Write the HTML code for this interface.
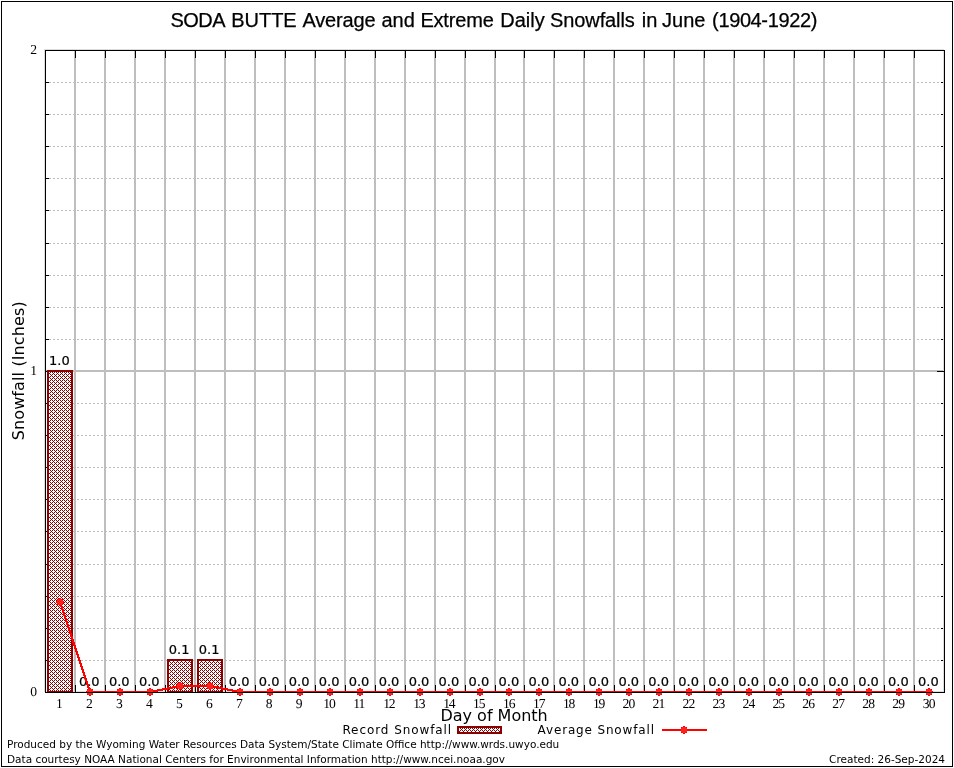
<!DOCTYPE html>
<html lang="en"><head><meta charset="utf-8">
<title>SODA BUTTE Average and Extreme Daily Snowfalls in June (1904-1922)</title>
<style>
html,body{margin:0;padding:0;background:#fff;}
body{width:954px;height:768px;overflow:hidden;}
svg{display:block;will-change:transform;}
.t{font-family:"Liberation Sans",Arial,Helvetica,sans-serif;font-size:20px;fill:#000;stroke:#000;stroke-width:.25px;}
.s{font-family:"Liberation Serif","Times New Roman",Times,serif;font-size:13.6px;fill:#000;text-rendering:geometricPrecision;}
.d{font-family:"DejaVu Sans",Verdana,sans-serif;fill:#000;}
</style></head><body>
<svg width="954" height="768" viewBox="0 0 954 768">
<defs>
<pattern id="xh" x="1" y="1" width="4" height="4" patternUnits="userSpaceOnUse">
<rect width="4" height="4" fill="#fff"/>
<path d="M0 0h1v1h-1zM1 1h1v1h-1zM3 1h1v1h-1zM2 2h1v1h-1zM1 3h1v1h-1zM3 3h1v1h-1z" fill="#8b0000" shape-rendering="crispEdges"/>
</pattern>
<g id="mk" shape-rendering="crispEdges"><path d="M-1 -4h2v1h2v2h1v2h-1v2h-2v1h-2v-1h-2v-2h-1v-2h1v-2h2z" fill="#ff0000"/><path d="M-2 -3h4v1h1v4h-1v1h-4v-1h-1v-4h1z" fill="#ff2020"/></g>
</defs>
<rect width="954" height="768" fill="#fff"/>
<rect x="1.5" y="1.5" width="951" height="765" fill="none" stroke="#000" stroke-width="1" shape-rendering="crispEdges"/>
<g stroke="#bebebe" shape-rendering="crispEdges">
<line x1="45" x2="944" y1="660.5" y2="660.5" stroke-width="1" stroke-dasharray="2 2"/>
<line x1="45" x2="944" y1="628.5" y2="628.5" stroke-width="1" stroke-dasharray="2 2"/>
<line x1="45" x2="944" y1="596.5" y2="596.5" stroke-width="1" stroke-dasharray="2 2"/>
<line x1="45" x2="944" y1="564.5" y2="564.5" stroke-width="1" stroke-dasharray="2 2"/>
<line x1="45" x2="944" y1="531.5" y2="531.5" stroke-width="1" stroke-dasharray="2 2"/>
<line x1="45" x2="944" y1="499.5" y2="499.5" stroke-width="1" stroke-dasharray="2 2"/>
<line x1="45" x2="944" y1="467.5" y2="467.5" stroke-width="1" stroke-dasharray="2 2"/>
<line x1="45" x2="944" y1="435.5" y2="435.5" stroke-width="1" stroke-dasharray="2 2"/>
<line x1="45" x2="944" y1="403.5" y2="403.5" stroke-width="1" stroke-dasharray="2 2"/>
<line x1="45" x2="944" y1="371" y2="371" stroke-width="2"/>
<line x1="45" x2="944" y1="339.5" y2="339.5" stroke-width="1" stroke-dasharray="2 2"/>
<line x1="45" x2="944" y1="307.5" y2="307.5" stroke-width="1" stroke-dasharray="2 2"/>
<line x1="45" x2="944" y1="275.5" y2="275.5" stroke-width="1" stroke-dasharray="2 2"/>
<line x1="45" x2="944" y1="243.5" y2="243.5" stroke-width="1" stroke-dasharray="2 2"/>
<line x1="45" x2="944" y1="210.5" y2="210.5" stroke-width="1" stroke-dasharray="2 2"/>
<line x1="45" x2="944" y1="178.5" y2="178.5" stroke-width="1" stroke-dasharray="2 2"/>
<line x1="45" x2="944" y1="146.5" y2="146.5" stroke-width="1" stroke-dasharray="2 2"/>
<line x1="45" x2="944" y1="114.5" y2="114.5" stroke-width="1" stroke-dasharray="2 2"/>
<line x1="45" x2="944" y1="82.5" y2="82.5" stroke-width="1" stroke-dasharray="2 2"/>
<line x1="75" x2="75" y1="50" y2="692" stroke-width="2"/>
<line x1="105" x2="105" y1="50" y2="692" stroke-width="2"/>
<line x1="135" x2="135" y1="50" y2="692" stroke-width="2"/>
<line x1="165" x2="165" y1="50" y2="692" stroke-width="2"/>
<line x1="195" x2="195" y1="50" y2="692" stroke-width="2"/>
<line x1="225" x2="225" y1="50" y2="692" stroke-width="2"/>
<line x1="255" x2="255" y1="50" y2="692" stroke-width="2"/>
<line x1="285" x2="285" y1="50" y2="692" stroke-width="2"/>
<line x1="315" x2="315" y1="50" y2="692" stroke-width="2"/>
<line x1="345" x2="345" y1="50" y2="692" stroke-width="2"/>
<line x1="375" x2="375" y1="50" y2="692" stroke-width="2"/>
<line x1="405" x2="405" y1="50" y2="692" stroke-width="2"/>
<line x1="435" x2="435" y1="50" y2="692" stroke-width="2"/>
<line x1="465" x2="465" y1="50" y2="692" stroke-width="2"/>
<line x1="495" x2="495" y1="50" y2="692" stroke-width="2"/>
<line x1="524" x2="524" y1="50" y2="692" stroke-width="2"/>
<line x1="554" x2="554" y1="50" y2="692" stroke-width="2"/>
<line x1="584" x2="584" y1="50" y2="692" stroke-width="2"/>
<line x1="614" x2="614" y1="50" y2="692" stroke-width="2"/>
<line x1="644" x2="644" y1="50" y2="692" stroke-width="2"/>
<line x1="674" x2="674" y1="50" y2="692" stroke-width="2"/>
<line x1="704" x2="704" y1="50" y2="692" stroke-width="2"/>
<line x1="734" x2="734" y1="50" y2="692" stroke-width="2"/>
<line x1="764" x2="764" y1="50" y2="692" stroke-width="2"/>
<line x1="794" x2="794" y1="50" y2="692" stroke-width="2"/>
<line x1="824" x2="824" y1="50" y2="692" stroke-width="2"/>
<line x1="854" x2="854" y1="50" y2="692" stroke-width="2"/>
<line x1="884" x2="884" y1="50" y2="692" stroke-width="2"/>
<line x1="914" x2="914" y1="50" y2="692" stroke-width="2"/>
</g>
<rect x="44.5" y="49.5" width="899" height="642" fill="none" stroke="#dcdcdc" stroke-width="1" shape-rendering="crispEdges"/>
<g stroke="#000" stroke-width="1" shape-rendering="crispEdges">
<line x1="75.5" x2="75.5" y1="50" y2="58"/>
<line x1="75.5" x2="75.5" y1="685" y2="693"/>
<line x1="105.5" x2="105.5" y1="50" y2="58"/>
<line x1="105.5" x2="105.5" y1="685" y2="693"/>
<line x1="135.5" x2="135.5" y1="50" y2="58"/>
<line x1="135.5" x2="135.5" y1="685" y2="693"/>
<line x1="165.5" x2="165.5" y1="50" y2="58"/>
<line x1="165.5" x2="165.5" y1="685" y2="693"/>
<line x1="195.5" x2="195.5" y1="50" y2="58"/>
<line x1="195.5" x2="195.5" y1="685" y2="693"/>
<line x1="225.5" x2="225.5" y1="50" y2="58"/>
<line x1="225.5" x2="225.5" y1="685" y2="693"/>
<line x1="255.5" x2="255.5" y1="50" y2="58"/>
<line x1="255.5" x2="255.5" y1="685" y2="693"/>
<line x1="285.5" x2="285.5" y1="50" y2="58"/>
<line x1="285.5" x2="285.5" y1="685" y2="693"/>
<line x1="315.5" x2="315.5" y1="50" y2="58"/>
<line x1="315.5" x2="315.5" y1="685" y2="693"/>
<line x1="345.5" x2="345.5" y1="50" y2="58"/>
<line x1="345.5" x2="345.5" y1="685" y2="693"/>
<line x1="375.5" x2="375.5" y1="50" y2="58"/>
<line x1="375.5" x2="375.5" y1="685" y2="693"/>
<line x1="405.5" x2="405.5" y1="50" y2="58"/>
<line x1="405.5" x2="405.5" y1="685" y2="693"/>
<line x1="435.5" x2="435.5" y1="50" y2="58"/>
<line x1="435.5" x2="435.5" y1="685" y2="693"/>
<line x1="465.5" x2="465.5" y1="50" y2="58"/>
<line x1="465.5" x2="465.5" y1="685" y2="693"/>
<line x1="495.5" x2="495.5" y1="50" y2="58"/>
<line x1="495.5" x2="495.5" y1="685" y2="693"/>
<line x1="524.5" x2="524.5" y1="50" y2="58"/>
<line x1="524.5" x2="524.5" y1="685" y2="693"/>
<line x1="554.5" x2="554.5" y1="50" y2="58"/>
<line x1="554.5" x2="554.5" y1="685" y2="693"/>
<line x1="584.5" x2="584.5" y1="50" y2="58"/>
<line x1="584.5" x2="584.5" y1="685" y2="693"/>
<line x1="614.5" x2="614.5" y1="50" y2="58"/>
<line x1="614.5" x2="614.5" y1="685" y2="693"/>
<line x1="644.5" x2="644.5" y1="50" y2="58"/>
<line x1="644.5" x2="644.5" y1="685" y2="693"/>
<line x1="674.5" x2="674.5" y1="50" y2="58"/>
<line x1="674.5" x2="674.5" y1="685" y2="693"/>
<line x1="704.5" x2="704.5" y1="50" y2="58"/>
<line x1="704.5" x2="704.5" y1="685" y2="693"/>
<line x1="734.5" x2="734.5" y1="50" y2="58"/>
<line x1="734.5" x2="734.5" y1="685" y2="693"/>
<line x1="764.5" x2="764.5" y1="50" y2="58"/>
<line x1="764.5" x2="764.5" y1="685" y2="693"/>
<line x1="794.5" x2="794.5" y1="50" y2="58"/>
<line x1="794.5" x2="794.5" y1="685" y2="693"/>
<line x1="824.5" x2="824.5" y1="50" y2="58"/>
<line x1="824.5" x2="824.5" y1="685" y2="693"/>
<line x1="854.5" x2="854.5" y1="50" y2="58"/>
<line x1="854.5" x2="854.5" y1="685" y2="693"/>
<line x1="884.5" x2="884.5" y1="50" y2="58"/>
<line x1="884.5" x2="884.5" y1="685" y2="693"/>
<line x1="914.5" x2="914.5" y1="50" y2="58"/>
<line x1="914.5" x2="914.5" y1="685" y2="693"/>
<line x1="45" x2="53" y1="692.5" y2="692.5"/>
<line x1="937" x2="945" y1="692.5" y2="692.5"/>
<line x1="45" x2="49" y1="660.5" y2="660.5"/>
<line x1="941" x2="943" y1="660.5" y2="660.5"/>
<line x1="45" x2="49" y1="628.5" y2="628.5"/>
<line x1="941" x2="943" y1="628.5" y2="628.5"/>
<line x1="45" x2="49" y1="596.5" y2="596.5"/>
<line x1="941" x2="943" y1="596.5" y2="596.5"/>
<line x1="45" x2="49" y1="564.5" y2="564.5"/>
<line x1="941" x2="943" y1="564.5" y2="564.5"/>
<line x1="45" x2="49" y1="531.5" y2="531.5"/>
<line x1="941" x2="943" y1="531.5" y2="531.5"/>
<line x1="45" x2="49" y1="499.5" y2="499.5"/>
<line x1="941" x2="943" y1="499.5" y2="499.5"/>
<line x1="45" x2="49" y1="467.5" y2="467.5"/>
<line x1="941" x2="943" y1="467.5" y2="467.5"/>
<line x1="45" x2="49" y1="435.5" y2="435.5"/>
<line x1="941" x2="943" y1="435.5" y2="435.5"/>
<line x1="45" x2="49" y1="403.5" y2="403.5"/>
<line x1="941" x2="943" y1="403.5" y2="403.5"/>
<line x1="45" x2="53" y1="371.5" y2="371.5"/>
<line x1="937" x2="945" y1="371.5" y2="371.5"/>
<line x1="45" x2="49" y1="339.5" y2="339.5"/>
<line x1="941" x2="943" y1="339.5" y2="339.5"/>
<line x1="45" x2="49" y1="307.5" y2="307.5"/>
<line x1="941" x2="943" y1="307.5" y2="307.5"/>
<line x1="45" x2="49" y1="275.5" y2="275.5"/>
<line x1="941" x2="943" y1="275.5" y2="275.5"/>
<line x1="45" x2="49" y1="243.5" y2="243.5"/>
<line x1="941" x2="943" y1="243.5" y2="243.5"/>
<line x1="45" x2="49" y1="210.5" y2="210.5"/>
<line x1="941" x2="943" y1="210.5" y2="210.5"/>
<line x1="45" x2="49" y1="178.5" y2="178.5"/>
<line x1="941" x2="943" y1="178.5" y2="178.5"/>
<line x1="45" x2="49" y1="146.5" y2="146.5"/>
<line x1="941" x2="943" y1="146.5" y2="146.5"/>
<line x1="45" x2="49" y1="114.5" y2="114.5"/>
<line x1="941" x2="943" y1="114.5" y2="114.5"/>
<line x1="45" x2="49" y1="82.5" y2="82.5"/>
<line x1="941" x2="943" y1="82.5" y2="82.5"/>
<line x1="45" x2="53" y1="50.5" y2="50.5"/>
<line x1="937" x2="945" y1="50.5" y2="50.5"/>
</g>
<g fill="url(#xh)" stroke="#8b0000" stroke-width="2" shape-rendering="crispEdges">
<rect x="48" y="371" width="24" height="321"/>
<rect x="168" y="660" width="24" height="32"/>
<rect x="198" y="660" width="24" height="32"/>
</g>
<g class="d" font-size="13px" text-anchor="middle" stroke="#000" stroke-width=".2">
<text x="59.4" y="365">1.0</text>
<text x="89.3" y="686">0.0</text>
<text x="119.3" y="686">0.0</text>
<text x="149.3" y="686">0.0</text>
<text x="179.2" y="654">0.1</text>
<text x="209.2" y="654">0.1</text>
<text x="239.2" y="686">0.0</text>
<text x="269.1" y="686">0.0</text>
<text x="299.1" y="686">0.0</text>
<text x="329.1" y="686">0.0</text>
<text x="359.0" y="686">0.0</text>
<text x="389.0" y="686">0.0</text>
<text x="419.0" y="686">0.0</text>
<text x="448.9" y="686">0.0</text>
<text x="478.9" y="686">0.0</text>
<text x="508.9" y="686">0.0</text>
<text x="538.9" y="686">0.0</text>
<text x="568.8" y="686">0.0</text>
<text x="598.8" y="686">0.0</text>
<text x="628.8" y="686">0.0</text>
<text x="658.7" y="686">0.0</text>
<text x="688.7" y="686">0.0</text>
<text x="718.6" y="686">0.0</text>
<text x="748.6" y="686">0.0</text>
<text x="778.6" y="686">0.0</text>
<text x="808.5" y="686">0.0</text>
<text x="838.5" y="686">0.0</text>
<text x="868.5" y="686">0.0</text>
<text x="898.4" y="686">0.0</text>
<text x="928.4" y="686">0.0</text>
</g>
<polyline points="60,602 90,692 120,692 150,692 180,686 210,686 240,692 270,692 300,692 330,692 360,692 390,692 420,692 450,692 480,692 509,692 539,692 569,692 599,692 629,692 659,692 689,692 719,692 749,692 779,692 809,692 839,692 869,692 899,692 929,692" fill="none" stroke="#ff0000" stroke-width="2" stroke-linejoin="round" shape-rendering="crispEdges"/>
<use href="#mk" x="60" y="602"/>
<use href="#mk" x="90" y="692"/>
<use href="#mk" x="120" y="692"/>
<use href="#mk" x="150" y="692"/>
<use href="#mk" x="180" y="686"/>
<use href="#mk" x="210" y="686"/>
<use href="#mk" x="240" y="692"/>
<use href="#mk" x="270" y="692"/>
<use href="#mk" x="300" y="692"/>
<use href="#mk" x="330" y="692"/>
<use href="#mk" x="360" y="692"/>
<use href="#mk" x="390" y="692"/>
<use href="#mk" x="420" y="692"/>
<use href="#mk" x="450" y="692"/>
<use href="#mk" x="480" y="692"/>
<use href="#mk" x="509" y="692"/>
<use href="#mk" x="539" y="692"/>
<use href="#mk" x="569" y="692"/>
<use href="#mk" x="599" y="692"/>
<use href="#mk" x="629" y="692"/>
<use href="#mk" x="659" y="692"/>
<use href="#mk" x="689" y="692"/>
<use href="#mk" x="719" y="692"/>
<use href="#mk" x="749" y="692"/>
<use href="#mk" x="779" y="692"/>
<use href="#mk" x="809" y="692"/>
<use href="#mk" x="839" y="692"/>
<use href="#mk" x="869" y="692"/>
<use href="#mk" x="899" y="692"/>
<use href="#mk" x="929" y="692"/>
<g stroke="#000" stroke-width="1" shape-rendering="crispEdges">
<rect x="45.5" y="50.5" width="899" height="642" fill="none"/>
</g>
<g class="s" transform="scale(1.0 1)">
<text x="59.48" y="708" text-anchor="middle">1</text>
<text x="89.45" y="708" text-anchor="middle">2</text>
<text x="119.42" y="708" text-anchor="middle">3</text>
<text x="149.38" y="708" text-anchor="middle">4</text>
<text x="179.35" y="708" text-anchor="middle">5</text>
<text x="209.32" y="708" text-anchor="middle">6</text>
<text x="239.28" y="708" text-anchor="middle">7</text>
<text x="269.25" y="708" text-anchor="middle">8</text>
<text x="299.22" y="708" text-anchor="middle">9</text>
<text x="323.28 328.88" y="708">10</text>
<text x="353.25 358.45" y="708">11</text>
<text x="383.22 388.82" y="708">12</text>
<text x="413.18 418.78" y="708">13</text>
<text x="443.15 448.75" y="708">14</text>
<text x="473.12 478.72" y="708">15</text>
<text x="503.08 508.68" y="708">16</text>
<text x="533.05 538.65" y="708">17</text>
<text x="563.02 568.62" y="708">18</text>
<text x="592.98 598.58" y="708">19</text>
<text x="628.55" y="708" text-anchor="middle" letter-spacing="-0.8">20</text>
<text x="658.52" y="708" text-anchor="middle" letter-spacing="-0.8">21</text>
<text x="688.48" y="708" text-anchor="middle" letter-spacing="-0.8">22</text>
<text x="718.45" y="708" text-anchor="middle" letter-spacing="-0.8">23</text>
<text x="748.42" y="708" text-anchor="middle" letter-spacing="-0.8">24</text>
<text x="778.38" y="708" text-anchor="middle" letter-spacing="-0.8">25</text>
<text x="808.35" y="708" text-anchor="middle" letter-spacing="-0.8">26</text>
<text x="838.32" y="708" text-anchor="middle" letter-spacing="-0.8">27</text>
<text x="868.28" y="708" text-anchor="middle" letter-spacing="-0.8">28</text>
<text x="898.25" y="708" text-anchor="middle" letter-spacing="-0.8">29</text>
<text x="928.82" y="708" text-anchor="middle" letter-spacing="-0.8">30</text>
<text x="37.00" y="696" text-anchor="end">0</text>
<text x="37.00" y="375" text-anchor="end">1</text>
<text x="37.00" y="54" text-anchor="end">2</text>
</g>
<text class="t" y="26.5"><tspan x="170.5" textLength="53.98">SODA</tspan> <tspan x="231.15">BUTTE</tspan> <tspan x="302.5" textLength="73.04">Average</tspan> <tspan x="381.45">and</tspan> <tspan x="420.4" textLength="73.37">Extreme</tspan> <tspan x="500.2">Daily</tspan> <tspan x="550.1" textLength="84.61">Snowfalls</tspan> <tspan x="641.7">in</tspan> <tspan x="662.1">June</tspan> <tspan x="712.1" textLength="105.20">(1904-1922)</tspan></text>
<text class="d" font-size="16px" textLength="139" transform="translate(23.5 440.3) rotate(-90)">Snowfall (Inches)</text>
<text class="d" font-size="16px" text-anchor="middle" x="494.1" y="720.5">Day of Month</text>
<text class="d" font-size="12px" textLength="108.8" x="342.4" y="733.7">Record Snowfall</text>
<rect x="458" y="727" width="43" height="6" fill="url(#xh)" stroke="#8b0000" stroke-width="2" shape-rendering="crispEdges"/>
<text class="d" font-size="12px" textLength="116.4" x="537.6" y="733.7">Average Snowfall</text>
<line x1="662" x2="707" y1="730" y2="730" stroke="#ff0000" stroke-width="2" shape-rendering="crispEdges"/>
<use href="#mk" x="684" y="730"/>
<text class="d" font-size="10.5px" x="7" y="748">Produced by the Wyoming Water Resources Data System/State Climate Office http://www.wrds.uwyo.edu</text>
<text class="d" font-size="10.5px" x="7" y="763">Data courtesy NOAA National Centers for Environmental Information http://www.ncei.noaa.gov</text>
<text class="d" font-size="10.5px" text-anchor="end" x="945" y="763">Created: 26-Sep-2024</text>
</svg></body></html>
